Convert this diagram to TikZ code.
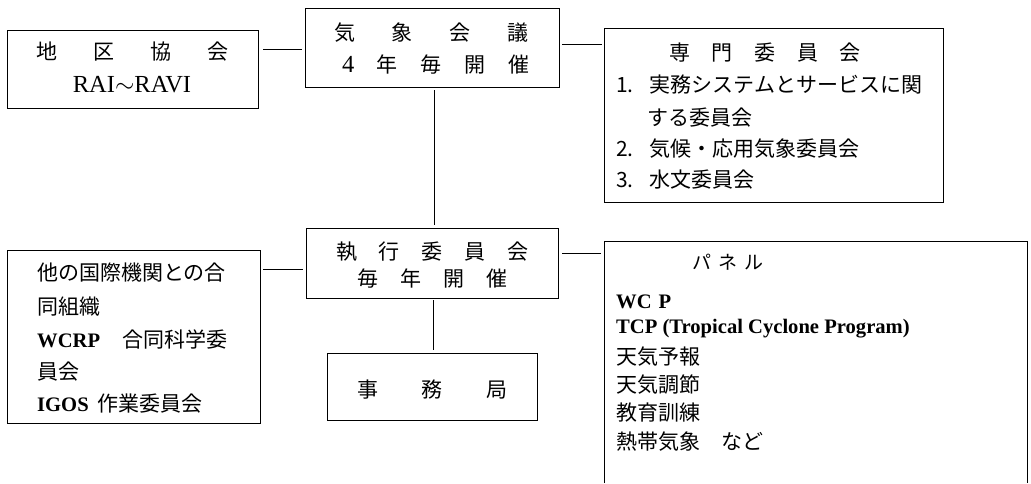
\documentclass[tikz,border=0pt]{standalone}
\usepackage{fontspec}
\newfontfamily\jp{Noto Sans CJK JP}
\newfontfamily\lser{Liberation Serif}
\tikzset{
  box/.style={draw, line width=0.9pt, inner sep=0pt, rectangle},
  frame/.style={line width=0.9pt},
  conn/.style={line width=0.8pt},
  jt/.style={inner sep=0pt, anchor=west, font=\jp\fontsize{21}{21}\selectfont},
  jc/.style={inner sep=0pt, anchor=center, font=\jp\fontsize{21}{21}\selectfont},
}
\newcommand{\lat}{\lser\bfseries\fontsize{20.6}{21}\selectfont}
\newcommand{\latr}{\lser\fontsize{24.5}{25}\selectfont}
\begin{document}
\begin{tikzpicture}[x=1pt,y=-1pt]
\useasboundingbox (0,0) rectangle (1031,483);
% boxes
\node[box, minimum width=251pt, minimum height=78pt] (chiku) at (132.5,69) {};
\node[box, minimum width=254pt, minimum height=79pt] (kisho) at (432,47.5) {};
\node[box, minimum width=339pt, minimum height=174pt] (senmon) at (773.5,115) {};
\node[box, minimum width=253pt, minimum height=173pt] (other) at (133.5,336.5) {};
\node[box, minimum width=252pt, minimum height=70pt] (shikko) at (432,263) {};
\node[box, minimum width=210pt, minimum height=67pt] (jimu) at (432,386.5) {};
\node[inner sep=0pt, minimum width=422pt, minimum height=241pt] (panel) at (816,362.5) {};
\draw[frame] (panel.south west) -- (panel.north west) -- (panel.north east) -- (panel.south east);
% connectors
\draw[conn, shorten <=5pt, shorten >=3pt] (chiku.east |- 0,49) -- (kisho.west |- 0,49);
\draw[conn, shorten <=3pt, shorten >=2pt] (kisho.east |- 0,44) -- (senmon.west |- 0,44);
\draw[conn, shorten <=3pt, shorten >=3pt] (kisho.south -| 434,0) -- (shikko.north -| 434,0);
\draw[conn, shorten <=3pt, shorten >=3pt] (other.east |- 0,269) -- (shikko.west |- 0,269);
\draw[conn, shorten <=4pt, shorten >=4pt] (shikko.east |- 0,253) -- (panel.west |- 0,253);
\draw[conn, shorten <=2pt, shorten >=3pt] (shikko.south -| 433,0) -- (jimu.north -| 433,0);
% texts: chiku
\node[jc] (c1) at (132.5,52) {\hbox to 193pt{地\hfill 区\hfill 協\hfill 会}};
\node[inner sep=0pt, anchor=center] (c2) at (132,85) {\latr RAI$\sim$RAVI};
% kisho
\node[jc] (k1) at (431.5,33) {\hbox to 195pt{気\hfill 象\hfill 会\hfill 議}};
\node[jc] (k2) at (435.5,65) {\hbox to 187pt{{\latr 4}\hfill 年\hfill 毎\hfill 開\hfill 催}};
% senmon
\node[jc] (s0) at (765,53) {\hbox to 192pt{専\hfill 門\hfill 委\hfill 員\hfill 会}};
\node[jt] (s1) at (616,85) {1.\hspace{16pt}実務システムとサービスに関};
\node[jt] (s2) at (647,118) {する委員会};
\node[jt] (s3) at (616,149) {2.\hspace{16pt}気候・応用気象委員会};
\node[jt] (s4) at (616,180) {3.\hspace{16pt}水文委員会};
% other
\node[jt] (o1) at (37,273) {他の国際機関との合};
\node[jt] (o2) at (37,307) {同組織};
\node[jt] (o3) at (37,339) {{\lat WCRP}\hspace{22pt}合同科学委};
\node[jt] (o4) at (37,372) {員会};
\node[jt] (o5) at (37,404) {{\lat IGOS}\hspace{9pt}作業委員会};
% shikko
\node[jc] (e1) at (432.5,252) {\hbox to 193pt{執\hfill 行\hfill 委\hfill 員\hfill 会}};
\node[jc] (e2) at (432.5,279) {\hbox to 151pt{毎\hfill 年\hfill 開\hfill 催}};
% jimu
\node[jc] (j1) at (432.5,390) {\hbox to 151pt{事\hfill 務\hfill 局}};
% panel
\node[jc, font=\jp\fontsize{19}{19}\selectfont] (p0) at (728,262) {\hbox to 72pt{パ\hfill ネ\hfill ル}};
\node[jt] (p1) at (616,302) {\lat WC\hspace{7pt}P};
\node[jt] (p2) at (616,329) {\lat TCP (Tropical Cyclone Program)};
\node[jt] (p3) at (616,357) {天気予報};
\node[jt] (p4) at (616,385) {天気調節};
\node[jt] (p5) at (616,413) {教育訓練};
\node[jt] (p6) at (616,442) {熱帯気象　など};
\end{tikzpicture}
\end{document}
